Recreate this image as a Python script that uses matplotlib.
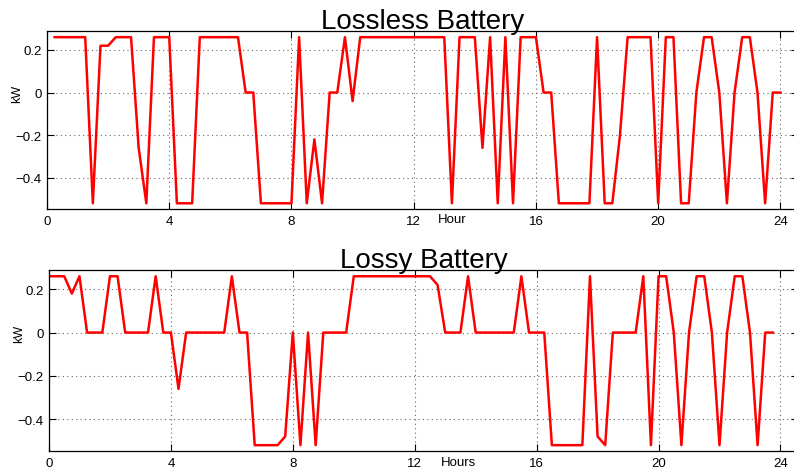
import numpy as np
import matplotlib.pyplot as plt

plt.rcParams['font.family'] = ['Liberation Sans', 'DejaVu Sans']

# 15-minute battery power (kW)
t_lossless = np.arange(1, 97) * 0.25          # 0.25 .. 24.0
p_lossless = [
    0.26, 0.26, 0.26, 0.26, 0.26, -0.52, 0.22, 0.22,
    0.26, 0.26, 0.26, -0.26, -0.52, 0.26, 0.26, 0.26,
    -0.52, -0.52, -0.52, 0.26, 0.26, 0.26, 0.26, 0.26,
    0.26, 0.0, 0.0, -0.52, -0.52, -0.52, -0.52, -0.52,
    0.26, -0.52, -0.22, -0.52, 0.0, 0.0, 0.26, -0.04,
    0.26, 0.26, 0.26, 0.26, 0.26, 0.26, 0.26, 0.26,
    0.26, 0.26, 0.26, 0.26, -0.52, 0.26, 0.26, 0.26,
    -0.26, 0.26, -0.52, 0.26, -0.52, 0.26, 0.26, 0.26,
    0.0, 0.0, -0.52, -0.52, -0.52, -0.52, -0.52, 0.26,
    -0.52, -0.52, -0.2, 0.26, 0.26, 0.26, 0.26, -0.52,
    0.26, 0.26, -0.52, -0.52, 0.0, 0.26, 0.26, 0.0,
    -0.52, 0.0, 0.26, 0.26, 0.0, -0.52, 0.0, 0.0,
]

t_lossy = np.arange(0, 96) * 0.25             # 0 .. 23.75
p_lossy = [
    0.26, 0.26, 0.26, 0.18, 0.26, 0.0, 0.0, 0.0,
    0.26, 0.26, 0.0, 0.0, 0.0, 0.0, 0.26, 0.0,
    0.0, -0.26, 0.0, 0.0, 0.0, 0.0, 0.0, 0.0,
    0.26, 0.0, 0.0, -0.52, -0.52, -0.52, -0.52, -0.48,
    0.0, -0.52, 0.0, -0.52, 0.0, 0.0, 0.0, 0.0,
    0.26, 0.26, 0.26, 0.26, 0.26, 0.26, 0.26, 0.26,
    0.26, 0.26, 0.26, 0.22, 0.0, 0.0, 0.0, 0.26,
    0.0, 0.0, 0.0, 0.0, 0.0, 0.0, 0.26, 0.0,
    0.0, 0.0, -0.52, -0.52, -0.52, -0.52, -0.52, 0.26,
    -0.48, -0.52, 0.0, 0.0, 0.0, 0.0, 0.26, -0.52,
    0.26, 0.26, 0.0, -0.52, 0.0, 0.26, 0.26, 0.0,
    -0.52, 0.0, 0.26, 0.26, 0.0, -0.52, 0.0, 0.0,
]

xticks = [0, 4, 8, 12, 16, 20, 24]
yticks = [-0.4, -0.2, 0, 0.2]
ytick_labels = ['\u22120.4', '\u22120.2', '0', '0.2']

fig = plt.figure(figsize=(7.94, 4.77), dpi=100)
ax1 = fig.add_axes([0.0592, 0.5597, 0.9460, 0.3732])
ax2 = fig.add_axes([0.0617, 0.0524, 0.9435, 0.3795])

panels = [
    (ax1, t_lossless, p_lossless, 'Lossless Battery', 'Hour', 13.26),
    (ax2, t_lossy, p_lossy, 'Lossy Battery', 'Hours', 13.45),
]

for ax, t, p, title, xlab, xlab_pos in panels:
    ax.plot(t, p, color='red', lw=1.8)
    ax.set_xlim(0, 24.58)
    ax.set_ylim(-0.547, 0.289)
    ax.set_xticks(xticks)
    ax.set_yticks(yticks)
    ax.set_yticklabels(ytick_labels)
    ax.tick_params(direction='in', length=5, width=0.8, labelsize=9.5,
                   top=True, right=True, pad=4)
    ax.grid(True, linestyle=(0, (1, 3)), color='0.4', linewidth=0.8)
    for s in ax.spines.values():
        s.set_linewidth(0.9)
    ax.set_title(title, fontsize=20, pad=2)
    ax.text(xlab_pos, -0.025, xlab, transform=ax.get_xaxis_transform(),
            ha='center', va='top', fontsize=9.5)
    ax.text(-0.04, 0.0, 'kW', transform=ax.get_yaxis_transform(),
            rotation=90, ha='center', va='center', fontsize=9)

fig.savefig('out.png', dpi=100)
